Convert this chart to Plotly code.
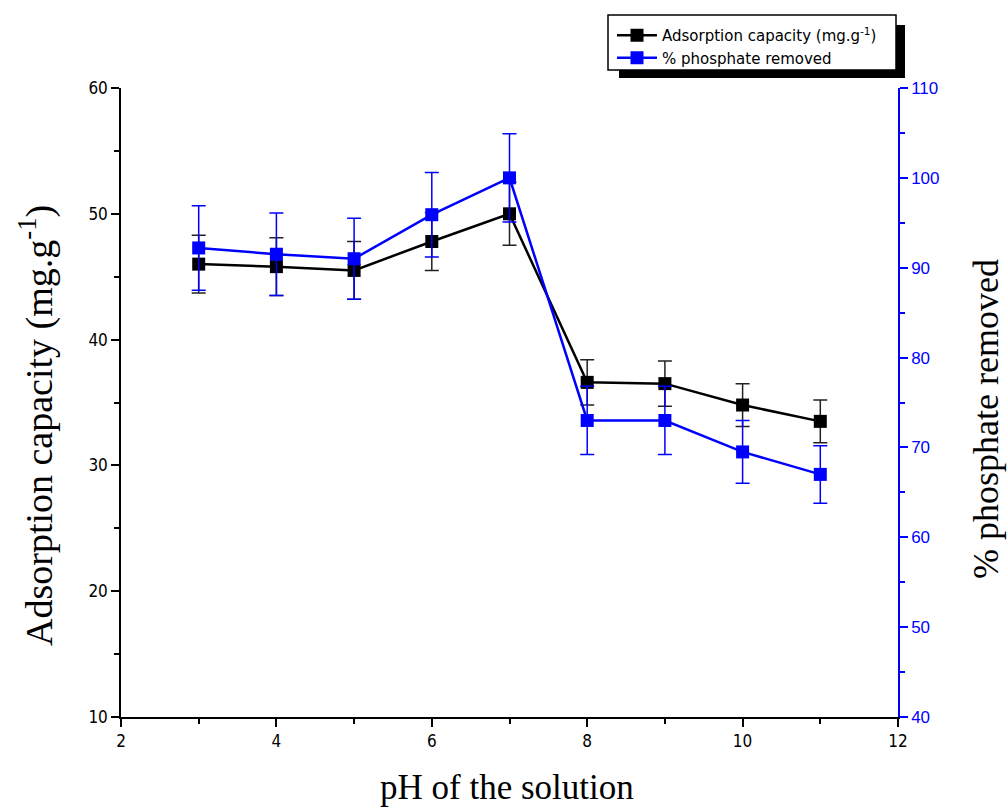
import plotly.graph_objects as go

ph = [3, 4, 5, 6, 7, 8, 9, 10, 11]
capacity = [46.0, 45.8, 45.5, 47.8, 50.0, 36.6, 36.5, 34.8, 33.5]
capacity_err = [2.3, 2.3, 2.3, 2.3, 2.5, 1.8, 1.8, 1.7, 1.7]
removed = [92.2, 91.5, 91.0, 95.9, 100.0, 73.0, 73.0, 69.5, 67.0]
removed_err = [4.7, 4.6, 4.5, 4.7, 4.9, 3.8, 3.8, 3.5, 3.2]

fig = go.Figure()
fig.add_trace(go.Scatter(
    x=ph, y=capacity, name="Adsorption capacity (mg.g<sup>-1</sup>)",
    mode="lines+markers",
    line=dict(color="black", width=2.5),
    marker=dict(symbol="square", size=13, color="black"),
    error_y=dict(type="data", array=capacity_err, color="#222222", thickness=1.5, width=7),
    yaxis="y"))
fig.add_trace(go.Scatter(
    x=ph, y=removed, name="% phosphate removed",
    mode="lines+markers",
    line=dict(color="#0000ff", width=2.5),
    marker=dict(symbol="square", size=13, color="#0000ff"),
    error_y=dict(type="data", array=removed_err, color="#0000ff", thickness=1.5, width=7),
    yaxis="y2"))

tickfont = dict(family="DejaVu Sans Condensed, Liberation Sans Narrow, Liberation Sans", size=17, color="black")

W, H = 1007, 811
L, R, T, B = 121, 898, 88, 717
def px(x):
    return (x - L) / (R - L)
def py(y):
    return (B - y) / (B - T)

fig.update_layout(
    width=W, height=H,
    margin=dict(l=L, r=W - R, t=T, b=H - B, autoexpand=False),
    paper_bgcolor="white", plot_bgcolor="white",
    showlegend=True,
    legend=dict(x=px(612), y=py(19), xanchor="left", yanchor="top",
                bgcolor="rgba(0,0,0,0)", borderwidth=0,
                font=dict(family="DejaVu Sans", size=15, color="black"),
                tracegroupgap=0, itemwidth=40),
    xaxis=dict(range=[2, 12], dtick=2, showline=True, linecolor="black", linewidth=1.5,
               ticks="outside", ticklen=8, tickwidth=1.5, tickcolor="black",
               minor=dict(dtick=1, ticks="outside", ticklen=5, tickcolor="black", tickwidth=1.5),
               showgrid=False, zeroline=False, tickfont=tickfont, automargin=False),
    yaxis=dict(range=[10, 60], dtick=10, showline=True, linecolor="black", linewidth=1.5,
               ticks="outside", ticklen=8, tickwidth=1.5, tickcolor="black",
               minor=dict(dtick=5, ticks="outside", ticklen=5, tickcolor="black", tickwidth=1.5),
               showgrid=False, zeroline=False, tickfont=tickfont, automargin=False),
    yaxis2=dict(range=[40, 110], dtick=10, overlaying="y", side="right",
                showline=True, linecolor="#0000ff", linewidth=1.5,
                ticks="outside", ticklen=8, tickwidth=1.5, tickcolor="#0000ff",
                minor=dict(dtick=5, ticks="outside", ticklen=5, tickcolor="#0000ff", tickwidth=1.5),
                showgrid=False, zeroline=False, automargin=False,
                tickfont=dict(family="Liberation Sans", size=17, color="#0000ff")),
)

# axis titles placed as annotations
fig.add_annotation(text="pH of the solution", xref="paper", yref="paper",
                   x=px(507), y=py(788), xanchor="center", yanchor="middle",
                   showarrow=False, font=dict(family="Liberation Serif", size=35, color="black"))
fig.add_annotation(text="Adsorption capacity (mg.g<sup>-1</sup>)", xref="paper", yref="paper",
                   x=px(36), y=py(426), xanchor="center", yanchor="middle", textangle=-90,
                   showarrow=False, font=dict(family="Liberation Serif", size=38, color="black"))
fig.add_annotation(text="% phosphate removed", xref="paper", yref="paper",
                   x=px(986), y=py(419), xanchor="center", yanchor="middle", textangle=-90,
                   showarrow=False, font=dict(family="Liberation Serif", size=36, color="black"))

# legend drop shadow and frame
fig.add_shape(type="rect", xref="paper", yref="paper",
              x0=px(619), x1=px(905), y0=py(78), y1=py(25),
              fillcolor="black", line=dict(width=0), layer="below")
fig.add_shape(type="rect", xref="paper", yref="paper",
              x0=px(608), x1=px(896), y0=py(70), y1=py(15),
              fillcolor="white", line=dict(color="black", width=1.5), layer="below")

fig.write_html("out.html")
